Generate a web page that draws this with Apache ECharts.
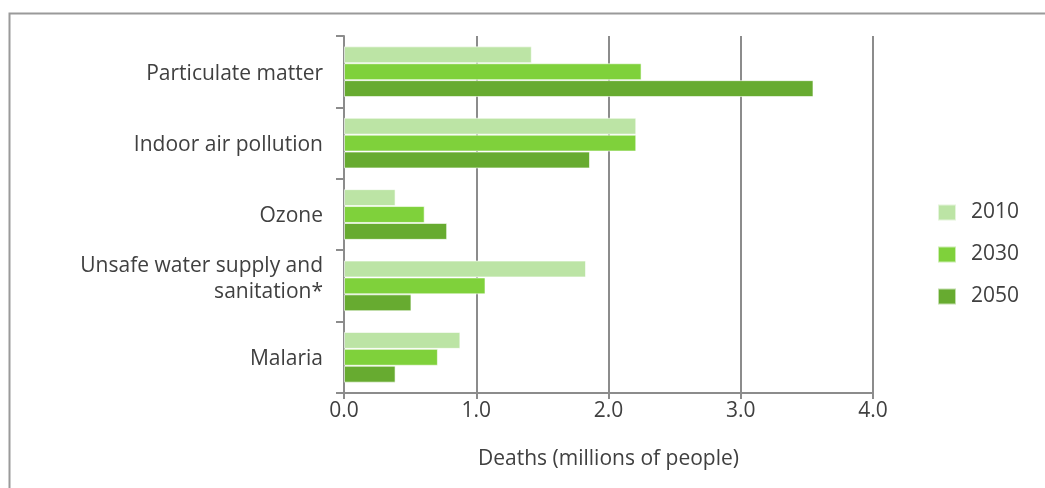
<!DOCTYPE html>
<html>
<head>
<meta charset="utf-8">
<script src="https://cdn.jsdelivr.net/npm/echarts@6/dist/echarts.min.js"></script>
<style>
html,body{margin:0;padding:0;background:#fff;}
#chart{width:1045px;height:488px;}
</style>
</head>
<body>
<div id="chart"></div>
<script>
const categories = ['Particulate matter', 'Indoor air pollution', 'Ozone', 'Unsafe water supply and\nsanitation*', 'Malaria'];
const years = ['2010', '2030', '2050'];
const v2010 = [1.42, 2.21, 0.39, 1.83, 0.88];
const v2030 = [2.25, 2.21, 0.61, 1.07, 0.71];
const v2050 = [3.55, 1.86, 0.78, 0.51, 0.39];
const xTicks = [0, 1, 2, 3, 4];
const colors = ['#bce4a5', '#7fd13b', '#67ab30'];
const FONT = 'Open Sans';
const TXT = '#404040';
const FS = 21;

const chart = echarts.init(document.getElementById('chart'));
const seriesData = [v2010, v2030, v2050];
chart.setOption({
  animation: false,
  textStyle: { fontFamily: FONT },
  graphic: [{
    type: 'rect',
    shape: { x: 9.5, y: 13.5, width: 2000, height: 2000 },
    style: { fill: 'none', stroke: '#9a9a9a', lineWidth: 2 },
    silent: true
  }],
  grid: { left: 344, right: 172, top: 36, bottom: 95 },
  legend: {
    orient: 'vertical',
    left: 937,
    top: 202,
    padding: 0,
    itemWidth: 18,
    itemHeight: 16,
    itemGap: 21,
    icon: 'rect',
    textStyle: { fontFamily: FONT, fontSize: FS, color: TXT, padding: [0, 0, 0, 10] },
    data: years
  },
  xAxis: {
    type: 'value',
    min: xTicks[0],
    max: xTicks[xTicks.length - 1],
    interval: 1,
    name: 'Deaths (millions of people)',
    nameLocation: 'middle',
    nameGap: 56,
    nameTextStyle: { fontFamily: FONT, fontSize: FS, color: TXT },
    axisLine: { show: true, lineStyle: { color: '#8c8c8c', width: 2 } },
    axisTick: { show: true, length: 6, lineStyle: { color: '#8c8c8c', width: 2 } },
    axisLabel: { fontFamily: FONT, fontSize: FS, color: TXT, margin: 8, formatter: v => v.toFixed(1) },
    splitLine: { show: true, lineStyle: { color: '#8c8c8c', width: 2 } }
  },
  yAxis: {
    type: 'category',
    inverse: true,
    data: categories,
    axisLine: { show: true, lineStyle: { color: '#8c8c8c', width: 2 } },
    axisTick: { show: true, length: 8, lineStyle: { color: '#8c8c8c', width: 2 } },
    axisLabel: {
      fontFamily: FONT, fontSize: FS, color: TXT, margin: 21, lineHeight: 26, align: 'right',
      formatter: v => {
        const lines = v.split('\n');
        if (lines.length > 1) return lines.map(l => '{t|' + l + '}').join('\n') + '\n{s| }';
        return '{u| }\n{t|' + v + '}';
      },
      rich: {
        t: { fontFamily: FONT, fontSize: FS, color: TXT, lineHeight: 26, align: 'right' },
        s: { fontSize: 4, lineHeight: 13 },
        u: { fontSize: 4, lineHeight: 4 }
      }
    },
    splitLine: { show: false }
  },
  series: years.map((y, i) => ({
    name: y,
    type: 'bar',
    data: seriesData[i],
    barGap: '0%',
    barCategoryGap: '29%',
    itemStyle: { color: colors[i], borderColor: 'rgba(255,255,255,0.6)', borderWidth: 1 }
  }))
});
</script>
</body>
</html>
